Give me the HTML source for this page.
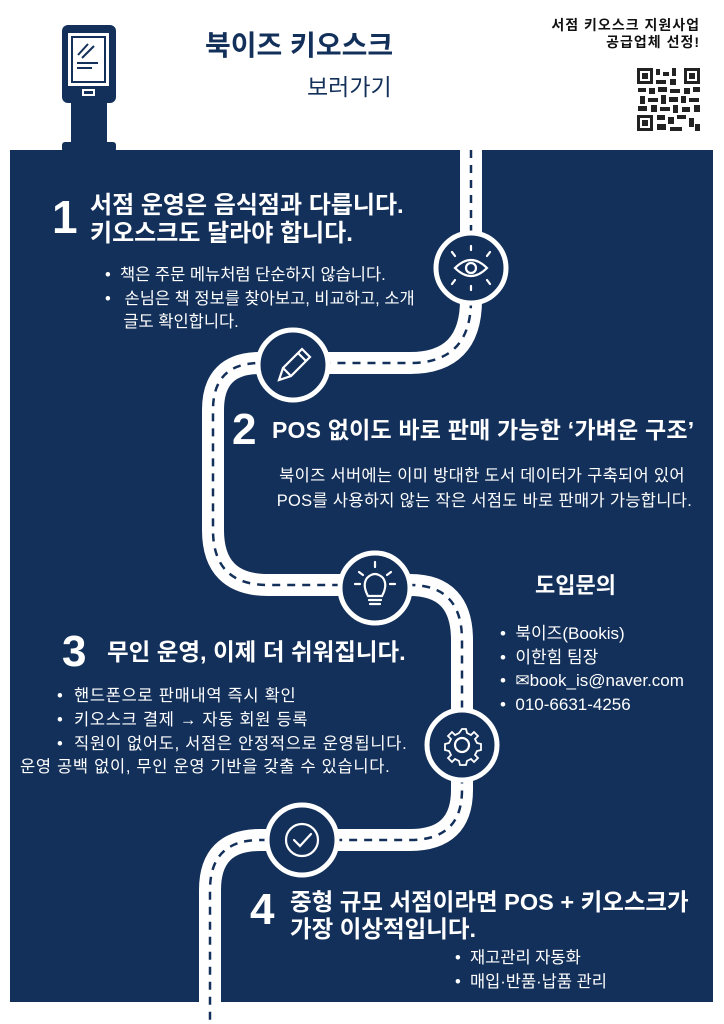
<!DOCTYPE html>
<html><head><meta charset="utf-8">
<style>
body{margin:0;width:724px;height:1024px;background:#fff;position:relative;overflow:hidden;font-family:"Liberation Sans","Noto Sans CJK KR",sans-serif;}
.a{position:absolute;white-space:nowrap;line-height:1;}
.w{color:#fff}
.n{color:#13305a}
.b{font-weight:bold}
</style></head><body>
<div class="a" style="left:10px;top:150px;width:703px;height:852px;background:#13305a"></div>
<svg class="a" style="left:0;top:0" width="724" height="1024" viewBox="0 0 724 1024">
<rect x="62" y="25" width="54" height="78" rx="6" fill="#13305a"/>
<rect x="68" y="33" width="41" height="53" fill="#fff"/>
<rect x="71" y="36" width="35" height="47" fill="#13305a"/>
<rect x="73" y="38" width="31" height="43" fill="#fff"/>
<line x1="78" y1="55" x2="88" y2="44" stroke="#13305a" stroke-width="2"/>
<line x1="82" y1="58" x2="94" y2="46" stroke="#13305a" stroke-width="2"/>
<line x1="77" y1="63" x2="98" y2="63" stroke="#13305a" stroke-width="2"/>
<line x1="77" y1="68" x2="92" y2="68" stroke="#13305a" stroke-width="2"/>
<rect x="82" y="89" width="13" height="7" fill="#fff"/><rect x="84" y="91" width="9" height="3" fill="#13305a"/>
<rect x="71" y="103" width="36" height="42" fill="#13305a"/>
<rect x="62" y="142" width="54" height="10" rx="3" fill="#13305a"/>
<rect x="637" y="68" width="63" height="63" fill="#fff"/>
<g fill="#222">
<rect x="637" y="68" width="16" height="16"/><rect x="684" y="68" width="16" height="16"/><rect x="637" y="115" width="16" height="16"/>
</g>
<g fill="#fff"><rect x="640" y="71" width="10" height="10"/><rect x="687" y="71" width="10" height="10"/><rect x="640" y="118" width="10" height="10"/></g>
<g fill="#222"><rect x="642" y="73" width="6" height="6"/><rect x="689" y="73" width="6" height="6"/><rect x="642" y="120" width="6" height="6"/>
<rect x="656" y="69" width="4" height="6"/><rect x="663" y="72" width="6" height="4"/><rect x="672" y="68" width="4" height="8"/><rect x="656" y="80" width="10" height="4"/><rect x="670" y="79" width="6" height="6"/>
<rect x="638" y="88" width="8" height="4"/><rect x="649" y="88" width="6" height="6"/><rect x="658" y="87" width="9" height="5"/><rect x="670" y="89" width="10" height="4"/><rect x="684" y="88" width="6" height="6"/><rect x="693" y="87" width="7" height="5"/>
<rect x="640" y="96" width="5" height="8"/><rect x="648" y="98" width="10" height="4"/><rect x="661" y="95" width="5" height="9"/><rect x="669" y="97" width="9" height="5"/><rect x="681" y="96" width="5" height="7"/><rect x="689" y="98" width="10" height="4"/>
<rect x="638" y="106" width="9" height="5"/><rect x="651" y="105" width="6" height="7"/><rect x="660" y="107" width="10" height="4"/><rect x="673" y="105" width="5" height="8"/><rect x="682" y="107" width="8" height="5"/><rect x="694" y="105" width="6" height="7"/>
<rect x="657" y="115" width="8" height="5"/><rect x="668" y="117" width="6" height="7"/><rect x="677" y="115" width="9" height="4"/><rect x="689" y="118" width="5" height="9"/><rect x="657" y="124" width="9" height="6"/><rect x="670" y="127" width="12" height="4"/><rect x="695" y="124" width="5" height="7"/></g>
<path d="M471,150 V300 Q471,363 410,363 H260 Q213,363 213,410 V530 Q213,585 268,585 H410 Q462,585 462,640 V790 Q462,840 410,840 H260 Q210,840 210,890 V1024" fill="none" stroke="#fff" stroke-width="22"/>
<path d="M471,150 V300 Q471,363 410,363 H260 Q213,363 213,410 V530 Q213,585 268,585 H410 Q462,585 462,640 V790 Q462,840 410,840 H260 Q210,840 210,890 V1024" fill="none" stroke="#13305a" stroke-width="2.5" stroke-dasharray="8 7"/>
<g fill="#13305a" stroke="#fff" stroke-width="5">
<circle cx="471" cy="268" r="35"/><circle cx="293" cy="365" r="35"/><circle cx="375" cy="588" r="35"/><circle cx="462" cy="745" r="35"/><circle cx="302" cy="840" r="35"/>
</g>
<g fill="none" stroke="#fff" stroke-width="2.2" stroke-linecap="round">
<path d="M455,268 Q471,252 487,268 Q471,284 455,268Z"/><circle cx="471" cy="268" r="5"/>
<line x1="471" y1="246" x2="471" y2="250"/><line x1="471" y1="286" x2="471" y2="290"/><line x1="452" y1="252" x2="455" y2="256"/><line x1="490" y1="252" x2="487" y2="256"/><line x1="452" y1="284" x2="455" y2="280"/><line x1="490" y1="284" x2="487" y2="280"/>
<path d="M279,380 L283,368 L302,349 L310,357 L291,376Z M283,368 L291,376 M298,353 L306,361"/>
<path d="M368,596 Q362,585 367,578 Q375,570 383,578 Q388,585 382,596Z"/><line x1="369" y1="600" x2="381" y2="600"/><line x1="370" y1="604" x2="380" y2="604"/>
<line x1="375" y1="562" x2="375" y2="567"/><line x1="359" y1="572" x2="363" y2="575"/><line x1="391" y1="572" x2="387" y2="575"/><line x1="355" y1="584" x2="360" y2="584"/><line x1="395" y1="584" x2="390" y2="584"/>
<circle cx="462" cy="745" r="7"/><path d="M462,729 l4,0 1,4 4,2 3-3 4,4-3,3 2,4 4,1 0,6-4,1-2,4 3,3-4,4-3-3-4,2-1,4-6,0-1-4-4-2-3,3-4-4 3-3-2-4-4-1 0-6 4-1 2-4-3-3 4-4 3,3 4-2Z" stroke-width="1.8"/>
<circle cx="302" cy="840" r="16"/><path d="M294,840 L300,846 L311,834"/>
</g>
</svg>
<div class="a n b" style="left:205px;top:32px;font-size:28px">북이즈 키오스크</div>
<div class="a n" style="left:307px;top:76px;font-size:23px">보러가기</div>
<div class="a b" style="right:24px;top:17px;font-size:14px;letter-spacing:1px;text-align:right;line-height:17px;color:#111">서점 키오스크 지원사업<br>공급업체 선정!</div>

<div class="a w b" style="left:52px;top:194px;font-size:46px">1</div>
<div class="a w b" style="left:90px;top:192px;font-size:24px;line-height:28px">서점 운영은 음식점과 다릅니다.<br>키오스크도 달라야 합니다.</div>
<div class="a w" style="left:105px;top:264px;font-size:16.5px;line-height:23.5px">•&nbsp;&nbsp;책은 주문 메뉴처럼 단순하지 않습니다.<br>•&nbsp;&nbsp; 손님은 책 정보를 찾아보고, 비교하고, 소개<br>&nbsp;&nbsp;&nbsp;&nbsp;글도 확인합니다.</div>

<div class="a w b" style="left:232px;top:408px;font-size:44px">2</div>
<div class="a w b" style="left:272px;top:419px;font-size:23px;letter-spacing:0.2px">POS 없이도 바로 판매 가능한 ‘가벼운 구조’</div>
<div class="a w" style="left:262px;top:464px;width:440px;text-align:center;font-size:16.5px;letter-spacing:0.3px;line-height:25px">북이즈 서버에는 이미 방대한 도서 데이터가 구축되어 있어<br>&nbsp;POS를 사용하지 않는 작은 서점도 바로 판매가 가능합니다.</div>

<div class="a w b" style="left:535px;top:575px;font-size:22px">도입문의</div>
<div class="a w" style="left:500px;top:622px;font-size:17px;line-height:23.5px">•&nbsp; 북이즈(Bookis)<br>•&nbsp; 이한힘 팀장<br>•&nbsp; ✉book_is@naver.com<br>•&nbsp; 010-6631-4256</div>

<div class="a w b" style="left:62px;top:630px;font-size:44px">3</div>
<div class="a w b" style="left:107px;top:641px;font-size:23.5px">무인 운영, 이제 더 쉬워집니다.</div>
<div class="a w" style="left:20px;top:685px;font-size:16.5px;letter-spacing:0.7px;line-height:23.8px">&nbsp;&nbsp;&nbsp;&nbsp;&nbsp;&nbsp;&nbsp;•&nbsp; 핸드폰으로 판매내역 즉시 확인<br>&nbsp;&nbsp;&nbsp;&nbsp;&nbsp;&nbsp;&nbsp;•&nbsp; 키오스크 결제 → 자동 회원 등록<br>&nbsp;&nbsp;&nbsp;&nbsp;&nbsp;&nbsp;&nbsp;•&nbsp; 직원이 없어도, 서점은 안정적으로 운영됩니다.<br>운영 공백 없이, 무인 운영 기반을 갖출 수 있습니다.</div>

<div class="a w b" style="left:250px;top:888px;font-size:44px">4</div>
<div class="a w b" style="left:290px;top:889px;font-size:23.5px;line-height:27px">중형 규모 서점이라면 POS + 키오스크가<br>가장 이상적입니다.</div>
<div class="a w" style="left:455px;top:946px;font-size:16.5px;line-height:24px">•&nbsp; 재고관리 자동화<br>•&nbsp; 매입·반품·납품 관리</div>
</body></html>
